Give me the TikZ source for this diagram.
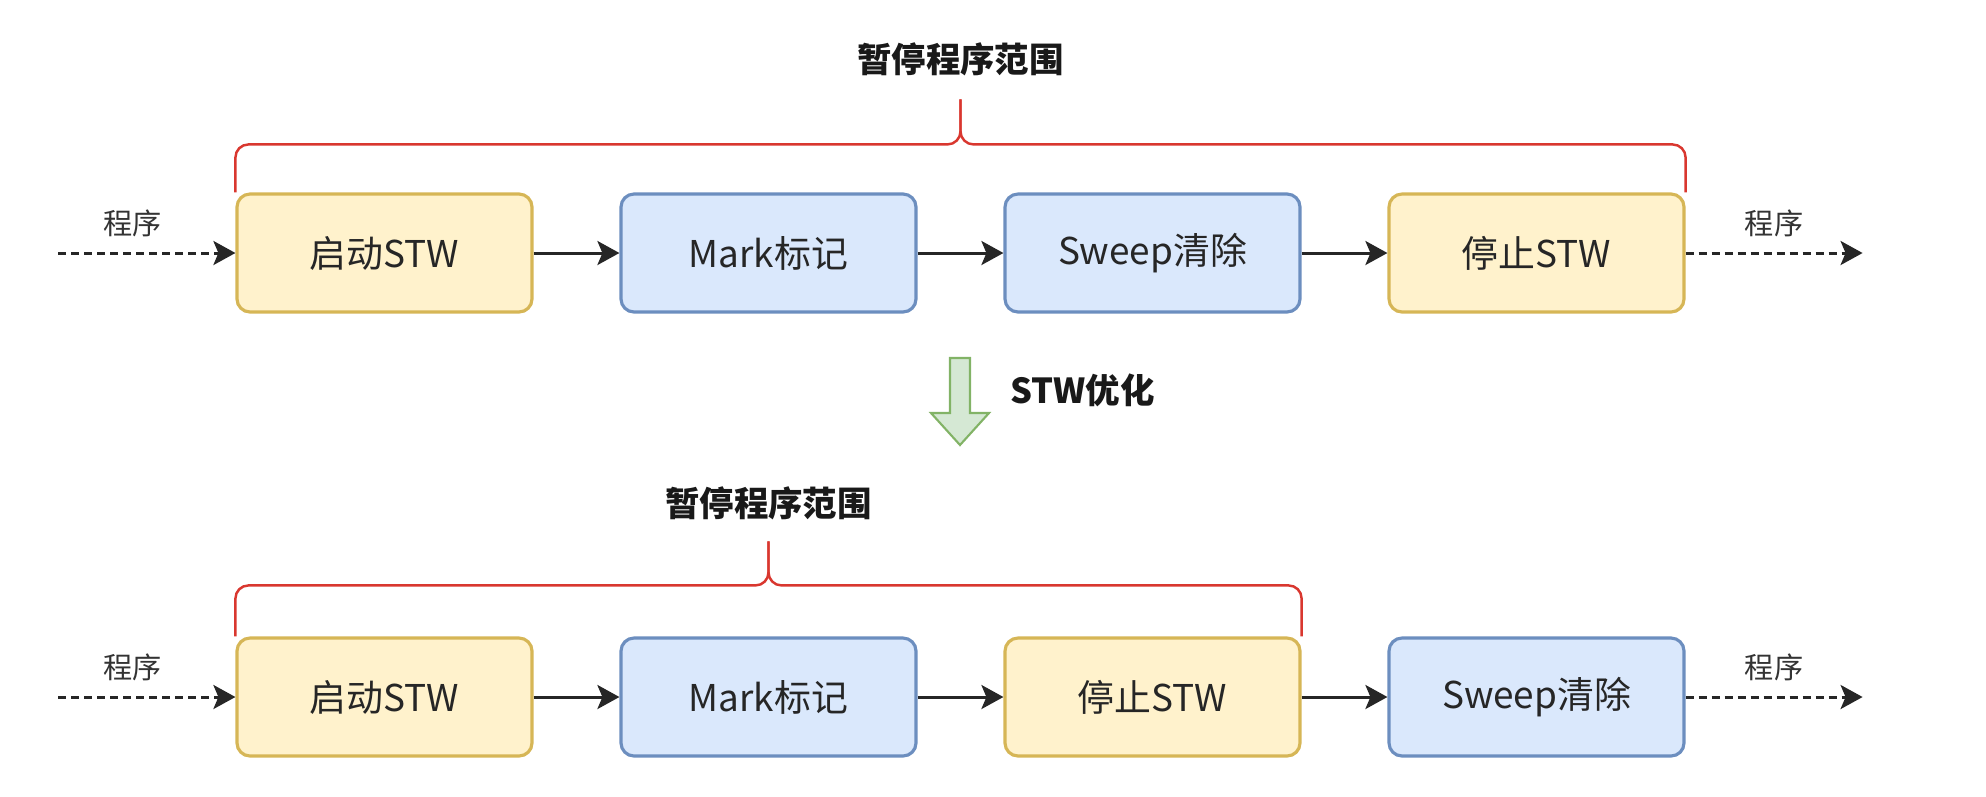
\documentclass[tikz,border=0pt]{standalone}
\usepackage{fontspec}
\setmainfont{Noto Sans CJK SC}
\usetikzlibrary{positioning, arrows.meta, calc}

\definecolor{stwfill}{HTML}{FFF2CC}
\definecolor{stwline}{HTML}{D6B656}
\definecolor{gcfill}{HTML}{DAE8FC}
\definecolor{gcline}{HTML}{6C8EBF}
\definecolor{optfill}{HTML}{D5E8D4}
\definecolor{optline}{HTML}{82B366}
\definecolor{bracered}{HTML}{D9372F}

\begin{document}
\begin{tikzpicture}[node distance=3.84cm, on grid,
  phase/.style={rectangle, rounded corners=0.13cm, minimum width=2.95cm, minimum height=1.18cm,
    line width=0.9pt, font=\fontsize{10.5}{12}\selectfont, text=black!85},
  stw/.style={phase, fill=stwfill, draw=stwline},
  gc/.style={phase, fill=gcfill, draw=gcline},
  flow/.style={-{Stealth[length=0.22cm, width=0.24cm, inset=0.05cm]}, line width=0.85pt, draw=black!85},
  prog/.style={flow, dash pattern=on 0.08cm off 0.05cm},
  proglabel/.style={font=\fontsize{8.3}{10}\selectfont, inner sep=0pt, text=black!80},
  brace/.style={draw=bracered, line width=0.7pt, rounded corners=0.13cm},
  pausetitle/.style={font=\bfseries\fontsize{9.8}{12}\selectfont, text=black!90},
]
   \useasboundingbox (0,0) rectangle (19.86,-7.96);

   % 优化前
   \node[stw] (a1) at (3.845,-2.53) {启动STW};
   \node[gc]  (a2) [right=of a1] {Mark标记};
   \node[gc]  (a3) [right=of a2] {Sweep清除};
   \node[stw] (a4) [right=of a3] {停止STW};

   % 优化后
   \node[stw] (b1) [below=4.44cm of a1] {启动STW};
   \node[gc]  (b2) [right=of b1] {Mark标记};
   \node[stw] (b3) [right=of b2] {停止STW};
   \node[gc]  (b4) [right=of b3] {Sweep清除};

   % 程序进出
   \coordinate[left=1.77cm of a1.west] (in1);
   \coordinate[right=1.77cm of a4.east] (out1);
   \coordinate[left=1.77cm of b1.west] (in2);
   \coordinate[right=1.77cm of b4.east] (out2);

   \draw[prog] (in1) -- node[proglabel, above=0.15cm, pos=0.42] (pa1) {程序} (a1);
   \draw[prog] (a4) -- node[proglabel, above=0.15cm] (pa2) {程序} (out1);
   \draw[prog] (in2) -- node[proglabel, above=0.15cm, pos=0.42] (pb1) {程序} (b1);
   \draw[prog] (b4) -- node[proglabel, above=0.15cm] (pb2) {程序} (out2);

   \draw[flow] (a1) -- (a2);
   \draw[flow] (a2) -- (a3);
   \draw[flow] (a3) -- (a4);
   \draw[flow] (b1) -- (b2);
   \draw[flow] (b2) -- (b3);
   \draw[flow] (b3) -- (b4);

   % 暂停范围（花括号）
   \coordinate (m1) at ($(a1.north west)!0.5!(a4.north east)+(0,0.48)$);
   \coordinate (t1) at ($(m1)+(0,0.45)$);
   \draw[brace] (a1.north west) -- ++(0,0.48) -- (m1) -- (t1);
   \draw[brace] (a4.north east) -- ++(0,0.48) -- (m1) -- (t1);
   \node[pausetitle] (r1) at ($(t1)+(0,0.4)$) {暂停程序范围};

   \coordinate (m2) at ($(b1.north west)!0.5!(b3.north east)+(0,0.51)$);
   \coordinate (t2) at ($(m2)+(0,0.44)$);
   \draw[brace] (b1.north west) -- ++(0,0.51) -- (m2) -- (t2);
   \draw[brace] (b3.north east) -- ++(0,0.51) -- (m2) -- (t2);
   \node[pausetitle] (r2) at ($(t2)+(0,0.38)$) {暂停程序范围};

   % STW优化
   \draw[draw=optline, fill=optfill, line width=0.6pt]
     (9.50,-3.58) -- (9.70,-3.58) -- (9.70,-4.13) -- (9.89,-4.13) -- (9.60,-4.45)
     -- (9.31,-4.13) -- (9.50,-4.13) -- cycle;
   \node[pausetitle, anchor=west] (opt) at (9.98,-3.90) {STW优化};
\end{tikzpicture}
\end{document}
